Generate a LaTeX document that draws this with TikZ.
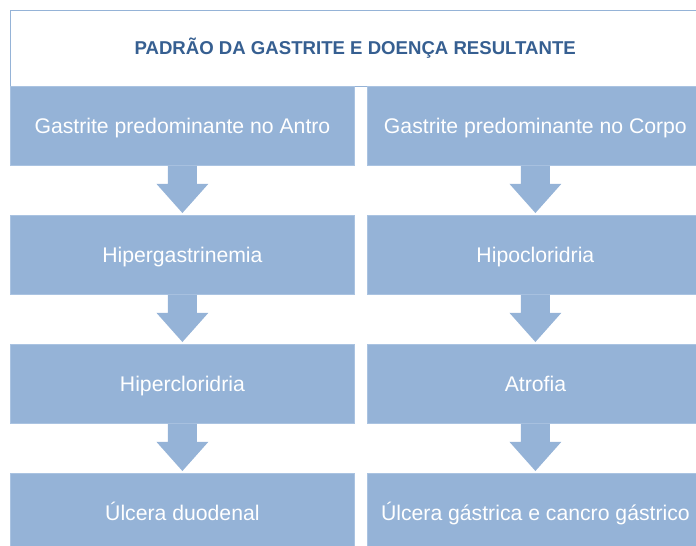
\documentclass[tikz,border=0pt]{standalone}
\usepackage{fontspec}
\setmainfont{Liberation Sans}
\usetikzlibrary{calc}
\definecolor{boxfill}{RGB}{149,179,215}
\definecolor{boxedge}{RGB}{170,195,225}
\definecolor{titleblue}{RGB}{54,95,145}
\tikzset{
  flowbox/.style={fill=boxfill, draw=boxedge, line width=0.8pt, inner sep=0pt, minimum height=79pt, text height=20pt, text depth=5pt, anchor=north west, text=white, font=\fontsize{21.2}{24}\selectfont},
  leftbox/.style={flowbox, minimum width=344pt},
  rightbox/.style={flowbox, minimum width=336pt},
  titlebox/.style={inner sep=0pt, minimum width=690pt, minimum height=75.5pt, anchor=north west},
  titletextstyle/.style={text=titleblue, font=\fontsize{18.6}{22}\selectfont\bfseries},
  titleframe/.style={draw=boxfill, line width=1pt, fill=white},
  flowarrow/.style={fill=boxfill}
}
\newcommand\flowdown[2]{%
  \fill[flowarrow] ($(#1.south)+(-14.5,0)$) -- ($(#1.south)+(14.5,0)$) -- ($(#1.south)+(14.5,18)$) -- ($(#1.south)+(26,18)$) -- ($(#2.north)+(0,-2)$) -- ($(#1.south)+(-26,18)$) -- ($(#1.south)+(-14.5,18)$) -- cycle;}
\begin{document}
\begin{tikzpicture}[x=1pt,y=-1pt]
\useasboundingbox (0,0) rectangle (696,546);
\clip (0,0) rectangle (696,546);
\node[titlebox] (title) at (10,10.5) {};
\draw[titleframe] (title.north west) rectangle ($(title.south east)+(20,0)$);
\node[titletextstyle] (titletext) at (title.center) {PADRÃO DA GASTRITE E DOENÇA RESULTANTE};
\node[leftbox] (l1) at (10,86) {Gastrite predominante no Antro};
\node[leftbox] (l2) at (10,215) {Hipergastrinemia};
\node[leftbox] (l3) at (10,344) {Hipercloridria};
\node[leftbox] (l4) at (10,473) {Úlcera duodenal};
\node[rightbox] (r1) at (367,86) {Gastrite predominante no Corpo};
\node[rightbox] (r2) at (367,215) {Hipocloridria};
\node[rightbox] (r3) at (367,344) {Atrofia};
\node[rightbox] (r4) at (367,473) {Úlcera gástrica e cancro gástrico};
\flowdown{l1}{l2}
\flowdown{l2}{l3}
\flowdown{l3}{l4}
\flowdown{r1}{r2}
\flowdown{r2}{r3}
\flowdown{r3}{r4}
\end{tikzpicture}
\end{document}
